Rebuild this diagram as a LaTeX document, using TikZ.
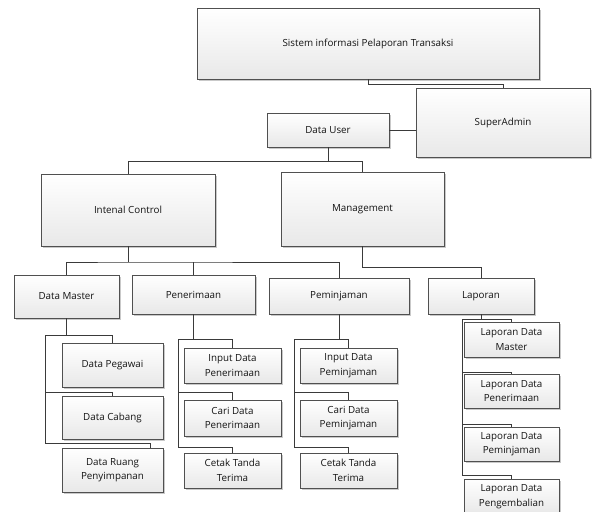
\documentclass[tikz,border=0pt]{standalone}
\usepackage{fontspec}
\setmainfont{Open Sans}
\usetikzlibrary{shadows,calc}
\definecolor{linec}{HTML}{3A3A3A}
\definecolor{boxline}{HTML}{505050}
\tikzset{
  box/.style={draw=boxline, line width=0.8pt, top color=white, bottom color=black!9,
    drop shadow={shadow xshift=1.6pt, shadow yshift=-1.6pt, fill=black!35, opacity=0.6},
    font=\fontsize{9.8}{14.5}\selectfont, text=black!92, align=center, inner sep=1pt},
  conn/.style={draw=linec, line width=0.9pt},
}
\begin{document}
\begin{tikzpicture}[x=1pt,y=-1pt]
\clip (0,0) rectangle (593,511);
\fill[white] (0,0) rectangle (593,511);
% top level
\node[box, minimum width=342pt, minimum height=71pt] (sys) at (368,43.5) {Sistem informasi Pelaporan Transaksi};
\node[box, minimum width=174pt, minimum height=69pt] (super) at (503,122.5) {SuperAdmin};
\node[box, minimum width=122pt, minimum height=34pt] (du) at (328,130) {Data User};
\node[box, minimum width=174pt, minimum height=72pt] (ic) at (128,210) {Intenal Control};
\node[box, minimum width=163pt, minimum height=74pt] (mg) at (362.5,209) {Management};
% second level
\node[box, minimum width=105pt, minimum height=43pt] (dm) at (66.5,296.5) {Data Master};
\node[box, minimum width=123pt, minimum height=39pt] (pn) at (193.5,294.5) {Penerimaan};
\node[box, minimum width=140pt, minimum height=36pt] (pj) at (339,296) {Peminjaman};
\node[box, minimum width=106pt, minimum height=36pt] (lp) at (481,296) {Laporan};
% data master children
\node[box, minimum width=101pt, minimum height=44pt] (dpeg) at (112.5,365) {Data Pegawai};
\node[box, minimum width=101pt, minimum height=43pt] (dcab) at (112.5,417.5) {Data Cabang};
\node[box, minimum width=101pt, minimum height=44pt] (drua) at (112.5,470) {Data Ruang\\Penyimpanan};
% penerimaan children
\node[box, minimum width=97pt, minimum height=35pt] (ipn) at (232.5,365.5) {Input Data\\Penerimaan};
\node[box, minimum width=97pt, minimum height=36pt] (cpn) at (232.5,418) {Cari Data\\Penerimaan};
\node[box, minimum width=97pt, minimum height=35pt] (ctn1) at (232.5,470.5) {Cetak Tanda\\Terima};
% peminjaman children
\node[box, minimum width=97pt, minimum height=35pt] (ipj) at (348.5,365.5) {Input Data\\Peminjaman};
\node[box, minimum width=97pt, minimum height=36pt] (cpj) at (348.5,418) {Cari Data\\Peminjaman};
\node[box, minimum width=97pt, minimum height=35pt] (ctn2) at (348.5,470.5) {Cetak Tanda\\Terima};
% laporan children
\node[box, minimum width=95pt, minimum height=35pt] (ldm) at (511.5,339.5) {Laporan Data\\Master};
\node[box, minimum width=95pt, minimum height=34pt] (ldpn) at (511.5,391) {Laporan Data\\Penerimaan};
\node[box, minimum width=95pt, minimum height=34pt] (ldpj) at (511.5,444) {Laporan Data\\Peminjaman};
\node[box, minimum width=95pt, minimum height=35pt] (ldpg) at (511.5,496.5) {Laporan Data\\Pengembalian};
% junctions
\coordinate (j1) at (328,161);
\coordinate (j2) at (128,262);
\coordinate (dmT) at (45,335);
\coordinate (dmM) at (45,392);
\coordinate (dmB) at (45,443);
\coordinate (pnT) at (178,339);
\coordinate (pnM) at (178,392);
\coordinate (pnB) at (178,447);
\coordinate (pjT) at (294,339);
\coordinate (pjM) at (294,392);
\coordinate (pjB) at (294,447);
\coordinate (lpT) at (462,319);
\coordinate (lpM1) at (462,372);
\coordinate (lpM2) at (462,424);
\coordinate (lpB) at (462,475);
% connectors
\draw[conn] (sys.south) -- ++(0,5) -| (super.north);
\draw[conn] (du.east) -- (du.east -| super.west);
\draw[conn] (du.south) -- (j1);
\draw[conn] (ic.north) |- (j1 -| mg.north) -- (mg.north);
\draw[conn] (ic.south) -- (j2);
\draw[conn] (dm.north) |- (j2) -| (pj.north);
\draw[conn] (pn.north) -- (pn.north |- j2);
\draw[conn] (mg.south) -- ++(0,21) -| (lp.north);
% data master tree
\draw[conn] (dm.south) |- (dmT) -- (dmB);
\draw[conn] (dmT) -| (dpeg.north);
\draw[conn] (dmM) -| (dcab.north);
\draw[conn] (dmB) -| ([xshift=37.5pt]drua.north);
% penerimaan tree
\draw[conn] (pn.south) |- (pnT) -- (pnB);
\draw[conn] (pnT) -| (ipn.north);
\draw[conn] (pnM) -| (cpn.north);
\draw[conn] (pnB) -| (ctn1.north);
% peminjaman tree
\draw[conn] (pj.south) |- (pjT) -- (pjB);
\draw[conn] (pjT) -| (ipj.north);
\draw[conn] (pjM) -| (cpj.north);
\draw[conn] (pjB) -| (ctn2.north);
% laporan tree
\draw[conn] (lp.south) |- (lpT) -- (lpB);
\draw[conn] (lpT) -| (ldm.north);
\draw[conn] (lpM1) -| (ldpn.north);
\draw[conn] (lpM2) -| (ldpj.north);
\draw[conn] (lpB) -| (ldpg.north);
\end{tikzpicture}
\end{document}
